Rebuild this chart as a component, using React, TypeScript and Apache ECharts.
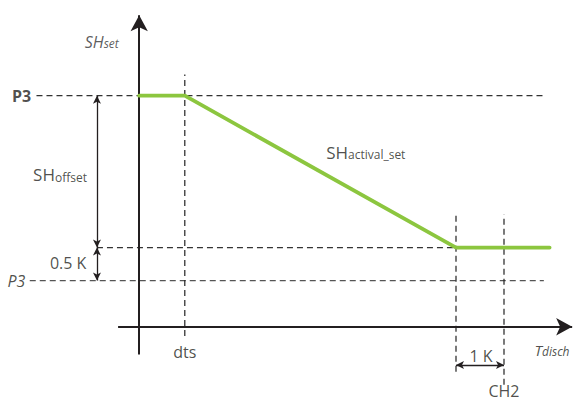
import React, { useEffect, useRef } from "react";
import * as echarts from "echarts";

// Data (units: K)
const curveX = [0, 0.95, 6.6, 8.55];
const curveY = [3.5, 3.5, 1.2, 1.2];
const levelNames = ["P3", "P3 + 0.5 K", "P3"];
const levelY = [3.5, 1.2, 0.7];
const levelStartX = [-2.14, -0.88, -2.28];
const levelEndX = [8.45, 8.45, 8.43];
const markerNames = ["dts", "knee", "CH2"];
const markerX = [0.95, 6.6, 7.6];
const markerTopY = [3.82, 1.7, 1.7];
const markerBottomY = [-0.14, -0.68, -0.88];
const offsetArrowX = -0.88;
const oneKArrowY = -0.58;

const xMin = -2.9, xMax = 9.1, yMin = -1.14, yMax = 4.95;
const FONT = "Open Sans";
const INK = "#231f20";

export default function App() {
  const ref = useRef<HTMLDivElement>(null);
  useEffect(() => {
    if (!ref.current) return;
    const chart = echarts.init(ref.current, null, { renderer: "svg" });

    const dashedLevels = levelY.map((y, i) => ({
      type: "line",
      name: levelNames[i],
      data: [[levelStartX[i], y], [levelEndX[i], y]],
      symbol: "none",
      silent: true,
      lineStyle: { color: i === 2 ? "#555" : "#333", width: 1.2, type: [6, 4] },
      z: 2,
    }));
    const dashedMarkers = markerX.map((x, i) => ({
      type: "line",
      name: markerNames[i],
      data: [[x, markerBottomY[i]], [x, markerTopY[i]]],
      symbol: "none",
      silent: true,
      lineStyle: { color: "#222", width: 1.2, type: [6, 4] },
      z: 2,
    }));

    const seg = (a: number[], b: number[], s0: string, s1: string, size: number[], width: number) => [
      { coord: a, symbol: s0, symbolSize: size },
      { coord: b, symbol: s1, symbolSize: size, lineStyle: { color: INK, width, type: "solid" } },
    ];

    const arrows = {
      type: "line",
      data: [],
      silent: true,
      markLine: {
        silent: true,
        animation: false,
        label: { show: false },
        lineStyle: { color: INK, type: "solid", width: 1.5 },
        data: [
          seg([0, -0.42], [0, 4.72], "none", "arrow", [13, 16], 2),
          seg([-0.44, 0], [9.02, 0], "none", "arrow", [13, 16], 2),
          seg([offsetArrowX, 3.5], [offsetArrowX, 1.2], "arrow", "arrow", [6, 8], 1.3),
          seg([offsetArrowX, 1.2], [offsetArrowX, 0.7], "arrow", "arrow", [6, 8], 1.3),
          seg([markerX[1], oneKArrowY], [markerX[2], oneKArrowY], "arrow", "arrow", [6, 8], 1.3),
        ],
      },
      z: 4,
    };

    const sub = (big: number, small: number, italic: boolean, color = INK) => ({
      a: { fontSize: big, fontStyle: italic ? "italic" : "normal", fontFamily: FONT, color, verticalAlign: "bottom" },
      b: { fontSize: small, fontStyle: italic ? "italic" : "normal", fontFamily: FONT, color, verticalAlign: "bottom" },
    });

    const labelItems = [
      { value: [-2.25, 3.5], label: { formatter: "P3", align: "right", fontWeight: "bold", fontSize: 16 } },
      { value: [-2.37, 0.7], label: { formatter: "P3", align: "right", fontStyle: "italic", fontSize: 16 } },
      { value: [-0.78, 4.32], label: { formatter: "{a|SH}{b|set}", rich: sub(16, 12, true, "#333") } },
      { value: [-1.65, 2.3], label: { formatter: "{a|SH}{b|offset}", rich: sub(17, 12, false) } },
      { value: [-1.48, 0.97], label: { formatter: "0.5 K", fontSize: 16 } },
      { value: [markerX[0], -0.39], label: { formatter: "dts", fontSize: 16 } },
      { value: [8.6, -0.35], label: { formatter: "{a|T}{b|disch}", rich: sub(15, 12, true) } },
      { value: [7.12, -0.45], label: { formatter: "1 K", fontSize: 16 } },
      { value: [markerX[2], -0.97], label: { formatter: "CH2", fontSize: 16 } },
      { value: [4.72, 2.64], label: { formatter: "{a|SH}{b|actival_set}", rich: sub(17, 12, false) } },
    ];

    chart.setOption({
      animation: false,
      grid: { left: 0, right: 0, top: 0, bottom: 0 },
      xAxis: { type: "value", min: xMin, max: xMax, show: false },
      yAxis: { type: "value", min: yMin, max: yMax, show: false },
      series: [
        ...dashedLevels,
        ...dashedMarkers,
        arrows,
        {
          type: "line",
          name: "SHactival_set",
          data: curveX.map((x, i) => [x, curveY[i]]),
          symbol: "none",
          silent: true,
          lineStyle: { color: "#8cc63f", width: 3.8, cap: "round" },
          z: 5,
        },
        {
          type: "scatter",
          data: labelItems,
          symbolSize: 0,
          silent: true,
          label: {
            show: true,
            position: "inside",
            align: "center",
            verticalAlign: "middle",
            color: INK,
            fontFamily: FONT,
          },
          z: 6,
        },
      ],
    });
    return () => chart.dispose();
  }, []);
  return <div ref={ref} style={{ position: "absolute", left: 0, top: 0, width: 576, height: 402, background: "#fff" }} />;
}
